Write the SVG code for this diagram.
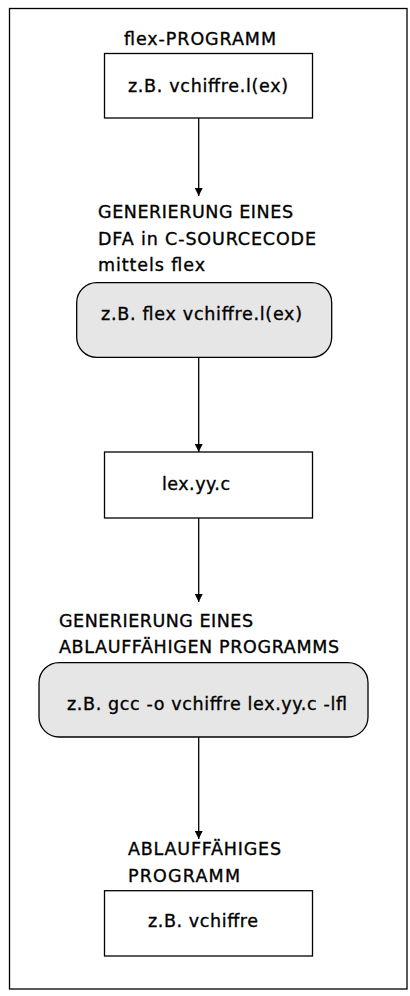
<svg xmlns="http://www.w3.org/2000/svg" width="410" height="996" viewBox="0 0 410 996">
<style>
text{font-family:"DejaVu Sans","Noto Sans",sans-serif;font-size:17.5px;fill:#000;stroke:#000;stroke-width:0.35;lengthAdjust:spacing}
.box{fill:#fff;stroke:#000;stroke-width:1.3}
.rbox{fill:#e6e6e6;stroke:#000;stroke-width:1.3}
.con{stroke:#000;stroke-width:1.3;fill:none;marker-end:url(#ah)}
</style>
<defs>
<marker id="ah" markerWidth="8" markerHeight="8" refX="8" refY="4" orient="auto" markerUnits="userSpaceOnUse">
<path d="M0,0 L8,4 L0,8 Z" fill="#000"/>
</marker>
</defs>
<rect x="0" y="0" width="410" height="996" fill="#fff"/>
<rect id="frame" x="9.5" y="8.5" width="397.5" height="980.5" fill="none" stroke="#000" stroke-width="1.3"/>
<g id="connectors">
<line class="con" x1="198.7" y1="118" x2="198.7" y2="196"/>
<line class="con" x1="198.7" y1="357" x2="198.7" y2="452"/>
<line class="con" x1="198.7" y1="518" x2="198.7" y2="602"/>
<line class="con" x1="198.7" y1="737" x2="198.7" y2="839"/>
</g>
<g id="n1">
<text x="124" y="45" textLength="152" lengthAdjust="spacing">flex-PROGRAMM</text>
<rect class="box" x="104.5" y="53.5" width="208" height="64.5"/>
<text x="128" y="92" textLength="160" lengthAdjust="spacing">z.B. vchiffre.l(ex)</text>
</g>
<g id="n2">
<text x="98" y="218" textLength="195" lengthAdjust="spacing">GENERIERUNG EINES</text>
<text x="98" y="245" textLength="218" lengthAdjust="spacing">DFA in C-SOURCECODE</text>
<text x="98" y="271" textLength="107" lengthAdjust="spacing">mittels flex</text>
<rect class="rbox" x="76.7" y="282.7" width="255" height="74.6" rx="20" ry="20"/>
<text x="101" y="320" textLength="201" lengthAdjust="spacing">z.B. flex vchiffre.l(ex)</text>
</g>
<g id="n3">
<rect class="box" x="104.5" y="452" width="208" height="66"/>
<text x="162" y="490" textLength="68" lengthAdjust="spacing">lex.yy.c</text>
</g>
<g id="n4">
<text x="59" y="627" textLength="194" lengthAdjust="spacing">GENERIERUNG EINES</text>
<text x="59" y="653" textLength="280" lengthAdjust="spacing">ABLAUFFÄHIGEN PROGRAMMS</text>
<rect class="rbox" x="39" y="662.7" width="329" height="74.3" rx="20" ry="20"/>
<text x="67" y="710" textLength="280" lengthAdjust="spacing">z.B. gcc -o vchiffre lex.yy.c -lfl</text>
</g>
<g id="n5">
<text x="128" y="855" textLength="153" lengthAdjust="spacing">ABLAUFFÄHIGES</text>
<text x="128" y="882" textLength="112" lengthAdjust="spacing">PROGRAMM</text>
<rect class="box" x="104.5" y="890.7" width="208" height="65.3"/>
<text x="148" y="927" textLength="110" lengthAdjust="spacing">z.B. vchiffre</text>
</g>
</svg>
